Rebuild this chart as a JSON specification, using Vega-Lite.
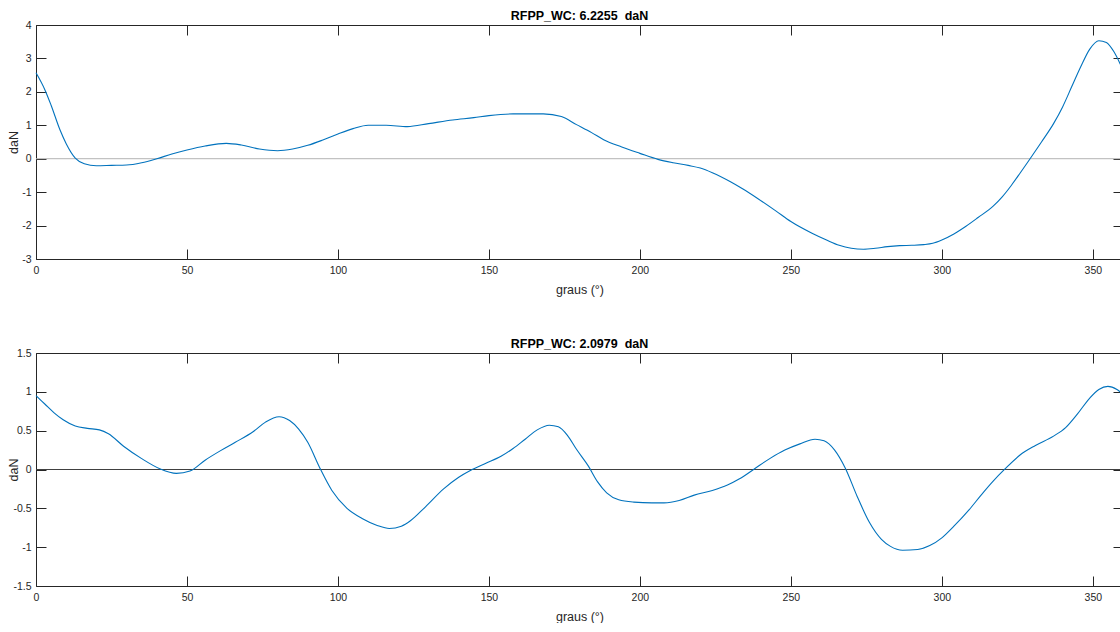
{
  "$schema": "https://vega.github.io/schema/vega-lite/v6.json",
  "padding": {"left": 7, "top": 9, "right": 0, "bottom": 0},
  "background": "white",
  "bounds": "flush",
  "spacing": 94,
  "config": {
    "view": {"stroke": null},
    "font": "Liberation Sans",
    "axis": {
      "grid": false,
      "domainColor": "#262626",
      "tickColor": "#262626",
      "labelColor": "#262626",
      "titleColor": "#262626",
      "labelFont": "Liberation Sans",
      "titleFont": "Liberation Sans",
      "labelFontSize": 10.5,
      "titleFontSize": 12.5,
      "titleFontWeight": "normal",
      "tickSize": -10,
      "labelFlush": false,
      "labelOverlap": false,
      "labelExpr": "'' + datum.value"
    },
    "title": {"font": "Liberation Sans", "fontSize": 12.5, "fontWeight": "bold", "color": "#000000", "offset": -2, "frame": "group"}
  },
  "datasets": {
    "top": [
      {"deg": 0, "val": 2.57}, {"deg": 3, "val": 2.05}, {"deg": 5, "val": 1.6}, {"deg": 8, "val": 0.85},
      {"deg": 10, "val": 0.45}, {"deg": 13, "val": 0.02}, {"deg": 16, "val": -0.15}, {"deg": 20, "val": -0.21},
      {"deg": 25, "val": -0.2}, {"deg": 30, "val": -0.19}, {"deg": 35, "val": -0.12}, {"deg": 40, "val": 0.0},
      {"deg": 45, "val": 0.14}, {"deg": 50, "val": 0.26}, {"deg": 56, "val": 0.38}, {"deg": 63, "val": 0.46},
      {"deg": 68, "val": 0.41}, {"deg": 74, "val": 0.29}, {"deg": 80, "val": 0.24}, {"deg": 85, "val": 0.29},
      {"deg": 90, "val": 0.4}, {"deg": 95, "val": 0.56}, {"deg": 100, "val": 0.74}, {"deg": 105, "val": 0.9},
      {"deg": 110, "val": 1.0}, {"deg": 116, "val": 1.0}, {"deg": 123, "val": 0.96}, {"deg": 130, "val": 1.05},
      {"deg": 138, "val": 1.16}, {"deg": 145, "val": 1.23}, {"deg": 150, "val": 1.29}, {"deg": 158, "val": 1.34},
      {"deg": 168, "val": 1.34}, {"deg": 174, "val": 1.26}, {"deg": 179, "val": 1.02}, {"deg": 184, "val": 0.78},
      {"deg": 188, "val": 0.57}, {"deg": 194, "val": 0.35}, {"deg": 200, "val": 0.16}, {"deg": 206, "val": -0.02},
      {"deg": 211, "val": -0.12}, {"deg": 216, "val": -0.2}, {"deg": 220, "val": -0.28}, {"deg": 224, "val": -0.42},
      {"deg": 230, "val": -0.69}, {"deg": 234, "val": -0.9}, {"deg": 239, "val": -1.19}, {"deg": 245, "val": -1.56},
      {"deg": 250, "val": -1.88}, {"deg": 257, "val": -2.23}, {"deg": 262, "val": -2.44}, {"deg": 266, "val": -2.59},
      {"deg": 270, "val": -2.68}, {"deg": 274, "val": -2.71}, {"deg": 278, "val": -2.68}, {"deg": 282, "val": -2.63},
      {"deg": 286, "val": -2.6}, {"deg": 290, "val": -2.59}, {"deg": 294, "val": -2.57}, {"deg": 297, "val": -2.53},
      {"deg": 300, "val": -2.43}, {"deg": 304, "val": -2.25}, {"deg": 308, "val": -2.02}, {"deg": 312, "val": -1.76},
      {"deg": 317, "val": -1.42}, {"deg": 320, "val": -1.14}, {"deg": 323, "val": -0.8}, {"deg": 326, "val": -0.42},
      {"deg": 329, "val": -0.03}, {"deg": 333, "val": 0.5}, {"deg": 337, "val": 1.05}, {"deg": 340, "val": 1.55},
      {"deg": 343, "val": 2.15}, {"deg": 346, "val": 2.75}, {"deg": 349, "val": 3.28}, {"deg": 352, "val": 3.53},
      {"deg": 354.5, "val": 3.48}, {"deg": 357, "val": 3.2}, {"deg": 359, "val": 2.85}, {"deg": 360, "val": 2.65}
    ],
    "bottom": [
      {"deg": 0, "val": 0.95}, {"deg": 3, "val": 0.84}, {"deg": 6, "val": 0.73}, {"deg": 9, "val": 0.64},
      {"deg": 13, "val": 0.56}, {"deg": 17, "val": 0.53}, {"deg": 21, "val": 0.51}, {"deg": 24, "val": 0.46},
      {"deg": 29, "val": 0.3}, {"deg": 35, "val": 0.14}, {"deg": 41, "val": 0.01}, {"deg": 46.5, "val": -0.05},
      {"deg": 51, "val": -0.02}, {"deg": 56, "val": 0.12}, {"deg": 61, "val": 0.24}, {"deg": 66, "val": 0.35},
      {"deg": 72, "val": 0.49}, {"deg": 76, "val": 0.61}, {"deg": 80.5, "val": 0.68}, {"deg": 84, "val": 0.63},
      {"deg": 87, "val": 0.52}, {"deg": 90, "val": 0.35}, {"deg": 94, "val": 0.02}, {"deg": 98, "val": -0.27},
      {"deg": 103, "val": -0.5}, {"deg": 108, "val": -0.63}, {"deg": 113, "val": -0.72}, {"deg": 117, "val": -0.76},
      {"deg": 121, "val": -0.73}, {"deg": 124, "val": -0.66}, {"deg": 129, "val": -0.48}, {"deg": 135, "val": -0.25},
      {"deg": 140, "val": -0.1}, {"deg": 144, "val": -0.01}, {"deg": 149, "val": 0.08}, {"deg": 154, "val": 0.17},
      {"deg": 158, "val": 0.27}, {"deg": 162, "val": 0.39}, {"deg": 166, "val": 0.51}, {"deg": 170, "val": 0.57},
      {"deg": 173, "val": 0.55}, {"deg": 176, "val": 0.44}, {"deg": 179, "val": 0.26}, {"deg": 183, "val": 0.04},
      {"deg": 186, "val": -0.16}, {"deg": 189, "val": -0.3}, {"deg": 193, "val": -0.39}, {"deg": 198, "val": -0.42},
      {"deg": 204, "val": -0.43}, {"deg": 208, "val": -0.43}, {"deg": 213, "val": -0.4}, {"deg": 218, "val": -0.33},
      {"deg": 224, "val": -0.27}, {"deg": 229, "val": -0.2}, {"deg": 233, "val": -0.12}, {"deg": 238, "val": 0.01},
      {"deg": 243, "val": 0.14}, {"deg": 248, "val": 0.25}, {"deg": 253, "val": 0.33}, {"deg": 258, "val": 0.39},
      {"deg": 261, "val": 0.37}, {"deg": 264.5, "val": 0.25}, {"deg": 268, "val": 0.02}, {"deg": 272, "val": -0.35},
      {"deg": 276, "val": -0.68}, {"deg": 280, "val": -0.9}, {"deg": 283, "val": -0.99}, {"deg": 287, "val": -1.04},
      {"deg": 292, "val": -1.03}, {"deg": 296, "val": -0.98}, {"deg": 300, "val": -0.88}, {"deg": 304, "val": -0.73},
      {"deg": 309, "val": -0.52}, {"deg": 313, "val": -0.33}, {"deg": 317, "val": -0.15}, {"deg": 321, "val": 0.01},
      {"deg": 326, "val": 0.19}, {"deg": 331, "val": 0.31}, {"deg": 337, "val": 0.43}, {"deg": 341, "val": 0.54},
      {"deg": 345, "val": 0.72}, {"deg": 349, "val": 0.92}, {"deg": 352, "val": 1.03}, {"deg": 355, "val": 1.07},
      {"deg": 358, "val": 1.03}, {"deg": 360, "val": 0.97}
    ]
  },
  "vconcat": [
    {
      "width": 1087,
      "height": 234,
      "title": {"text": "RFPP_WC: 6.2255\u00a0 daN"},
      "layer": [
        {
          "data": {"values": [{}]},
          "mark": {"type": "rule", "color": "#b3b3b3", "strokeWidth": 1},
          "encoding": {
            "x": {"datum": 0, "type": "quantitative", "scale": {"domain": [0, 360], "nice": false, "zero": false},
                  "axis": {"orient": "top", "labels": false, "title": null, "values": [0, 50, 100, 150, 200, 250, 300, 350]}},
            "x2": {"datum": 360},
            "y": {"datum": 0, "type": "quantitative",
                  "axis": {"orient": "right", "labels": false, "title": null, "values": [-3, -2, -1, 0, 1, 2, 3, 4]}}
          }
        },
        {
          "data": {"name": "top"},
          "mark": {"type": "line", "color": "#0072BD", "strokeWidth": 1.1, "interpolate": "monotone"},
          "encoding": {
            "x": {"field": "deg", "type": "quantitative", "scale": {"domain": [0, 360], "nice": false, "zero": false},
                  "axis": {"orient": "bottom", "title": "graus (°)", "values": [0, 50, 100, 150, 200, 250, 300, 350], "labelPadding": 16, "titlePadding": 8}},
            "y": {"field": "val", "type": "quantitative", "scale": {"domain": [-3, 4], "nice": false, "zero": false},
                  "axis": {"orient": "left", "title": "daN", "values": [-3, -2, -1, 0, 1, 2, 3, 4], "labelPadding": 15, "titleX": -16}}
          }
        }
      ]
    },
    {
      "width": 1087,
      "height": 233,
      "title": {"text": "RFPP_WC: 2.0979\u00a0 daN"},
      "layer": [
        {
          "data": {"values": [{}]},
          "mark": {"type": "rule", "color": "#404040", "strokeWidth": 1},
          "encoding": {
            "x": {"datum": 0, "type": "quantitative", "scale": {"domain": [0, 360], "nice": false, "zero": false},
                  "axis": {"orient": "top", "labels": false, "title": null, "values": [0, 50, 100, 150, 200, 250, 300, 350]}},
            "x2": {"datum": 360},
            "y": {"datum": 0, "type": "quantitative",
                  "axis": {"orient": "right", "labels": false, "title": null, "values": [-1.5, -1, -0.5, 0, 0.5, 1, 1.5]}}
          }
        },
        {
          "data": {"name": "bottom"},
          "mark": {"type": "line", "color": "#0072BD", "strokeWidth": 1.1, "interpolate": "monotone"},
          "encoding": {
            "x": {"field": "deg", "type": "quantitative", "scale": {"domain": [0, 360], "nice": false, "zero": false},
                  "axis": {"orient": "bottom", "title": "graus (°)", "values": [0, 50, 100, 150, 200, 250, 300, 350], "labelPadding": 16, "titlePadding": 8}},
            "y": {"field": "val", "type": "quantitative", "scale": {"domain": [-1.5, 1.5], "nice": false, "zero": false},
                  "axis": {"orient": "left", "title": "daN", "values": [-1.5, -1, -0.5, 0, 0.5, 1, 1.5], "labelPadding": 15, "titleX": -16}}
          }
        }
      ]
    }
  ]
}
